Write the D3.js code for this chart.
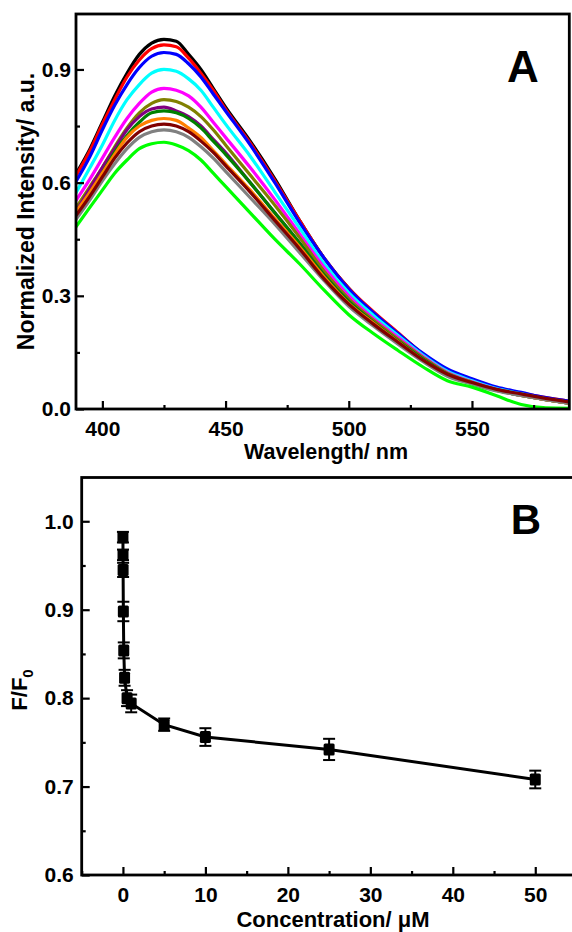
<!DOCTYPE html>
<html>
<head>
<meta charset="utf-8">
<script src="https://cdn.jsdelivr.net/npm/d3@7"></script>
<style>
  body { margin: 0; background: #fff; }
  text { font-family: "Liberation Sans", Arial, sans-serif; font-weight: bold; }
</style>
</head>
<body>
<div id="container"></div>
<script>
// panel A: emission spectra (normalized)
const wavelengths = [389, 395, 400, 405, 410, 415, 420, 425, 430, 435, 440, 445, 450, 460, 470, 480, 490, 500, 510, 520, 530, 540, 550, 560, 570, 580, 590];

const specBlack   = [0.62, 0.69, 0.76, 0.83, 0.89, 0.94, 0.97, 0.98, 0.975, 0.94, 0.90, 0.85, 0.80, 0.71, 0.61, 0.50, 0.40, 0.32, 0.255, 0.20, 0.145, 0.10, 0.075, 0.053, 0.04, 0.027, 0.018];
const specRed     = [0.615, 0.685, 0.755, 0.82, 0.88, 0.925, 0.955, 0.965, 0.96, 0.93, 0.89, 0.845, 0.795, 0.705, 0.605, 0.50, 0.40, 0.32, 0.258, 0.202, 0.146, 0.10, 0.076, 0.055, 0.042, 0.03, 0.02];
const specBlue    = [0.60, 0.67, 0.74, 0.805, 0.86, 0.905, 0.935, 0.945, 0.94, 0.915, 0.88, 0.835, 0.79, 0.70, 0.60, 0.495, 0.40, 0.318, 0.255, 0.20, 0.148, 0.106, 0.08, 0.058, 0.044, 0.03, 0.02];
const specCyan    = [0.57, 0.64, 0.70, 0.765, 0.82, 0.86, 0.89, 0.90, 0.895, 0.875, 0.845, 0.80, 0.755, 0.67, 0.575, 0.48, 0.385, 0.308, 0.248, 0.195, 0.143, 0.10, 0.075, 0.054, 0.04, 0.027, 0.017];
const specMagenta = [0.55, 0.61, 0.665, 0.72, 0.77, 0.81, 0.84, 0.85, 0.845, 0.83, 0.80, 0.76, 0.72, 0.64, 0.555, 0.465, 0.375, 0.30, 0.24, 0.19, 0.14, 0.097, 0.072, 0.052, 0.038, 0.026, 0.016];
const specOlive   = [0.53, 0.59, 0.64, 0.695, 0.745, 0.785, 0.81, 0.82, 0.815, 0.80, 0.775, 0.74, 0.70, 0.62, 0.54, 0.455, 0.365, 0.292, 0.235, 0.185, 0.137, 0.095, 0.071, 0.051, 0.037, 0.025, 0.016];
const specPurple  = [0.52, 0.585, 0.64, 0.69, 0.74, 0.775, 0.795, 0.80, 0.79, 0.775, 0.75, 0.715, 0.68, 0.60, 0.52, 0.44, 0.355, 0.285, 0.23, 0.18, 0.133, 0.092, 0.069, 0.05, 0.036, 0.025, 0.015];
const specGreenD  = [0.51, 0.57, 0.625, 0.68, 0.725, 0.76, 0.785, 0.79, 0.785, 0.77, 0.745, 0.71, 0.675, 0.60, 0.52, 0.44, 0.355, 0.285, 0.23, 0.18, 0.133, 0.092, 0.069, 0.05, 0.036, 0.025, 0.015];
const specOrange  = [0.52, 0.575, 0.625, 0.675, 0.72, 0.75, 0.765, 0.77, 0.765, 0.745, 0.72, 0.685, 0.65, 0.58, 0.505, 0.43, 0.35, 0.28, 0.228, 0.178, 0.13, 0.09, 0.068, 0.049, 0.036, 0.025, 0.015];
const specGray    = [0.50, 0.555, 0.605, 0.65, 0.69, 0.72, 0.735, 0.74, 0.735, 0.72, 0.695, 0.665, 0.63, 0.56, 0.49, 0.415, 0.34, 0.272, 0.22, 0.172, 0.126, 0.087, 0.066, 0.048, 0.036, 0.025, 0.015];
const specMaroon  = [0.51, 0.565, 0.615, 0.665, 0.705, 0.735, 0.75, 0.755, 0.75, 0.735, 0.71, 0.68, 0.645, 0.575, 0.50, 0.425, 0.345, 0.278, 0.225, 0.177, 0.13, 0.092, 0.07, 0.052, 0.04, 0.028, 0.018];
const specGreen   = [0.48, 0.535, 0.58, 0.625, 0.66, 0.69, 0.703, 0.707, 0.70, 0.685, 0.66, 0.625, 0.59, 0.52, 0.45, 0.385, 0.315, 0.25, 0.20, 0.155, 0.112, 0.075, 0.058, 0.035, 0.012, 0.003, 0.002];

const spectra = [specBlack, specRed, specBlue, specCyan, specMagenta, specOlive, specPurple, specGreenD, specOrange, specGray, specMaroon, specGreen];
const specColors = ["#000000", "#ff0000", "#0000ff", "#00ffff", "#ff00ff", "#808000", "#800080", "#008000", "#ff8000", "#808080", "#800000", "#00ff00"];

// panel B: F/F0 vs concentration
const conc = [0, 0.01, 0.02, 0.05, 0.1, 0.2, 0.5, 1, 5, 10, 25, 50];
const ratio = [0.982, 0.962, 0.945, 0.898, 0.854, 0.823, 0.800, 0.794, 0.770, 0.756, 0.742, 0.708];
const ratioErr = [0.006, 0.006, 0.008, 0.011, 0.009, 0.009, 0.009, 0.010, 0.007, 0.010, 0.012, 0.010];

const yTicksA = [0, 0.3, 0.6, 0.9];
const yTicksB = [0.6, 0.7, 0.8, 0.9, 1.0];


let svg = d3.select("#container").
append("svg").
attr("width", 572).
attr("height", 932);

// ---------- panel A ----------
let ax = { left: 76, right: 569.3, top: 14, bottom: 409 };

let xA = d3.scaleLinear().domain([389.3, 589.5]).range([ax.left, ax.right]);
let yA = d3.scaleLinear().domain([0, 1.047]).range([ax.bottom, ax.top]);

svg.append("clipPath").
attr("id", "clipA").
append("rect").
attr("x", ax.left).
attr("y", ax.top).
attr("width", ax.right - ax.left).
attr("height", ax.bottom - ax.top);

let line = d3.line().
x((d, i) => xA(wavelengths[i])).
y(d => yA(d)).
curve(d3.curveMonotoneX);

svg.append("g").
attr("clip-path", "url(#clipA)").
selectAll("path").
data(spectra).
enter().
append("path").
attr("d", d => line(d)).
attr("fill", "none").
attr("stroke", (d, i) => specColors[i]).
attr("stroke-width", 3.2).
attr("stroke-linejoin", "round");

drawAxes(ax, xA, yA, [400, 450, 500, 550], [425, 475, 525, 575], yTicksA, [0.15, 0.45, 0.75], 5, 12);

svg.append("text").
attr("x", 523).
attr("y", 82).
attr("text-anchor", "middle").
style("font-size", "44px").
text("A");

svg.append("text").
attr("x", 326).
attr("y", 459).
attr("text-anchor", "middle").
style("font-size", "21.5px").
text("Wavelength/ nm");

svg.append("text").
attr("transform", "translate(34," + (ax.top + ax.bottom) / 2 + ") rotate(-90)").
attr("text-anchor", "middle").
style("font-size", "23px").
text("Normalized Intensity/ a.u.");

// ---------- panel B ----------
let bx = { left: 81.7, right: 576.5, top: 477.5, bottom: 875 };

let xB = d3.scaleLinear().domain([-5, 55]).range([bx.left, bx.right]);
let yB = d3.scaleLinear().domain([0.6, 1.0495]).range([bx.bottom, bx.top]);

let pts = conc.map((c, i) => ({ c: c, v: ratio[i], e: ratioErr[i] }));

svg.append("path").
datum(pts).
attr("d", d3.line().x(d => xB(d.c)).y(d => yB(d.v))).
attr("fill", "none").
attr("stroke", "#000").
attr("stroke-width", 3);

let eb = svg.append("g").
selectAll("g").
data(pts).
enter().
append("g").
attr("stroke", "#000").
attr("stroke-width", 2);

eb.append("line").
attr("x1", d => xB(d.c)).
attr("x2", d => xB(d.c)).
attr("y1", d => yB(d.v - d.e)).
attr("y2", d => yB(d.v + d.e));
eb.append("line").
attr("x1", d => xB(d.c) - 6).
attr("x2", d => xB(d.c) + 6).
attr("y1", d => yB(d.v - d.e)).
attr("y2", d => yB(d.v - d.e));
eb.append("line").
attr("x1", d => xB(d.c) - 6).
attr("x2", d => xB(d.c) + 6).
attr("y1", d => yB(d.v + d.e)).
attr("y2", d => yB(d.v + d.e));

svg.append("g").
selectAll("rect").
data(pts).
enter().
append("rect").
attr("x", d => xB(d.c) - 5.5).
attr("y", d => yB(d.v) - 6).
attr("width", 11).
attr("height", 12).
attr("rx", 1.5).
attr("fill", "#000");

drawAxes(bx, xB, yB, [0, 10, 20, 30, 40, 50], [-5, 5, 15, 25, 35, 45], yTicksB, [0.65, 0.75, 0.85, 0.95], 8, 12);

svg.append("text").
attr("x", 526).
attr("y", 534).
attr("text-anchor", "middle").
style("font-size", "42px").
text("B");

svg.append("text").
attr("x", 333).
attr("y", 927).
attr("text-anchor", "middle").
style("font-size", "22px").
text("Concentration/ \u03bcM");

let fLabel = svg.append("text").
attr("transform", "translate(27,690) rotate(-90)").
attr("text-anchor", "middle").
style("font-size", "22px");
fLabel.append("tspan").text("F/F");
fLabel.append("tspan").
attr("dy", 6).
style("font-size", "15px").
text("0");


// helper: framed box with inward ticks
function drawAxes(box, x, y, xMajor, xMinor, yMajor, yMinor, yPad, xPad) {
  let xAxis = d3.axisBottom(x).
  tickValues(xMajor).
  tickSize(-8).
  tickPadding(xPad).
  tickFormat(d3.format("d"));
  let yAxis = d3.axisLeft(y).
  tickValues(yMajor).
  tickSize(-8).
  tickPadding(yPad).
  tickFormat(d3.format(".1f"));

  let gx = svg.append("g").
  attr("transform", "translate(0," + box.bottom + ")").
  call(xAxis);
  svg.append("g").
  attr("transform", "translate(0," + box.bottom + ")").
  call(d3.axisBottom(x).tickValues(xMinor).tickSize(-4).tickFormat(""));
  let gy = svg.append("g").
  attr("transform", "translate(" + box.left + ",0)").
  call(yAxis);
  svg.append("g").
  attr("transform", "translate(" + box.left + ",0)").
  call(d3.axisLeft(y).tickValues(yMinor).tickSize(-4).tickFormat(""));

  svg.selectAll(".domain").remove();
  svg.selectAll(".tick line").attr("stroke", "#000").attr("stroke-width", 2.2);
  gx.selectAll("text").style("font-size", "21px").attr("fill", "#000");
  gy.selectAll("text").style("font-size", "21px").attr("fill", "#000");
  svg.selectAll("g").attr("font-family", null).attr("font-size", null);

  svg.append("rect").
  attr("x", box.left).
  attr("y", box.top).
  attr("width", box.right - box.left).
  attr("height", box.bottom - box.top).
  attr("fill", "none").
  attr("stroke", "#000").
  attr("stroke-width", 2.8);
}
</script>
</body>
</html>
